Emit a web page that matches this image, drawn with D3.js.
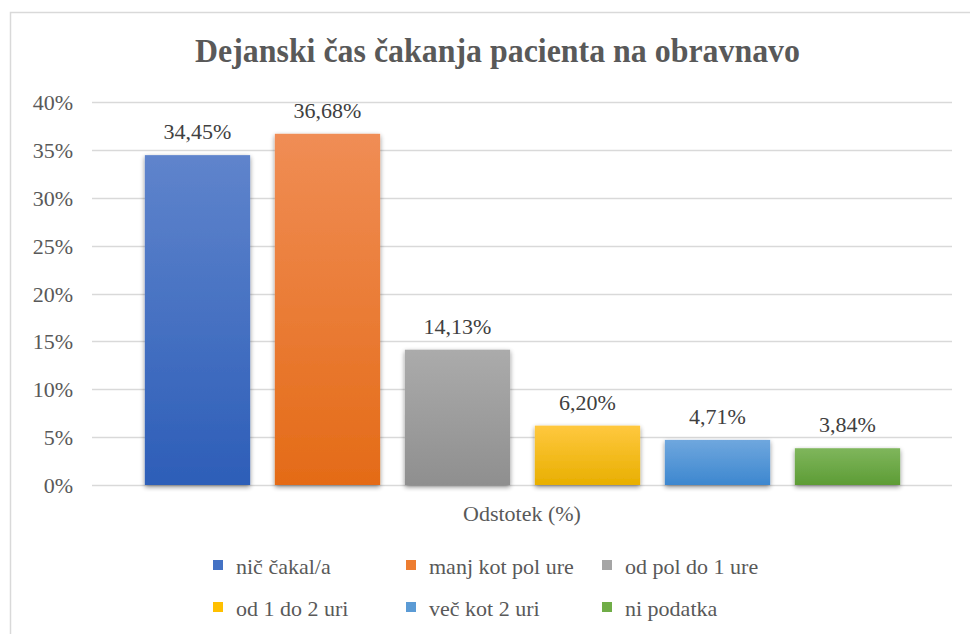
<!DOCTYPE html>
<html>
<head>
<meta charset="utf-8">
<script src="https://cdn.jsdelivr.net/npm/d3@7"></script>
</head>
<body style="margin:0; background:#fff">
<div id="chart"></div>
<script>
const categories = ['nič čakal/a', 'manj kot pol ure', 'od pol do 1 ure', 'od 1 do 2 uri', 'več kot 2 uri', 'ni podatka'];
const values = [34.45, 36.68, 14.13, 6.20, 4.71, 3.84];
const topColors = ['#5f84cc', '#f08d55', '#ababab', '#ffc83f', '#6fa7de', '#7fb65c'];
const bottomColors = ['#2d5eb8', '#e46b17', '#8f8f8f', '#e8af00', '#3d87cf', '#5d9c35'];
const legendColors = ['#4472c4', '#ed7d31', '#a5a5a5', '#ffc000', '#5b9bd5', '#70ad47'];
const yTicks = [0, 5, 10, 15, 20, 25, 30, 35, 40];

const FONT = '"Liberation Serif"';
const width = 970, height = 634;
const svg = d3.select('#chart').append('svg')
    .attr('width', width)
    .attr('height', height)
    .attr('font-family', 'Liberation Serif')
    .style('display', 'block');

const defs = svg.append('defs');

// Sjena ispod stupaca
const shadow = defs.append('filter')
    .attr('id', 'shadow')
    .attr('x', '-20%').attr('y', '-10%')
    .attr('width', '140%').attr('height', '130%');
shadow.append('feGaussianBlur').attr('in', 'SourceAlpha').attr('stdDeviation', 2.5);
shadow.append('feOffset').attr('dx', 0).attr('dy', 2).attr('result', 'blur');
shadow.append('feComponentTransfer').append('feFuncA').attr('type', 'linear').attr('slope', 0.45);
const merge = shadow.append('feMerge');
merge.append('feMergeNode');
merge.append('feMergeNode').attr('in', 'SourceGraphic');

categories.forEach((c, i) => {
    const g = defs.append('linearGradient')
        .attr('id', 'grad' + i)
        .attr('x1', 0).attr('y1', 0).attr('x2', 0).attr('y2', 1);
    g.append('stop').attr('offset', '0%').attr('stop-color', topColors[i]);
    g.append('stop').attr('offset', '100%').attr('stop-color', bottomColors[i]);
});

// Okvir
svg.append('rect')
    .attr('x', 10.5).attr('y', 12.5)
    .attr('width', 1000).attr('height', 700)
    .attr('fill', '#fff')
    .attr('stroke', '#d9d9d9')
    .attr('stroke-width', 1.5);

// Naslov
svg.append('text')
    .attr('x', 497.5)
    .attr('y', 62)
    .attr('text-anchor', 'middle')
    .attr('fill', '#595959')
    .attr('textLength', 605)
    .attr('lengthAdjust', 'spacingAndGlyphs')
    .style('font-family', FONT)
    .style('font-size', '33px')
    .style('font-weight', 'bold')
    .text('Dejanski čas čakanja pacienta na obravnavo');

const y = d3.scaleLinear().domain([0, 40]).range([485, 102]);
const x = d3.scaleBand().domain(categories).range([132.5, 912.5]).paddingInner(0.19).paddingOuter(0.095);

// Mreža
svg.append('g')
    .selectAll('line')
    .data(yTicks)
    .enter()
    .append('line')
    .attr('x1', 92).attr('x2', 952)
    .attr('y1', d => Math.round(y(d)) + 0.5)
    .attr('y2', d => Math.round(y(d)) + 0.5)
    .attr('stroke', '#d9d9d9')
    .attr('stroke-width', 1.5);

// Oznake osi Y
svg.append('g')
    .selectAll('text')
    .data(yTicks)
    .enter()
    .append('text')
    .attr('x', 73)
    .attr('y', d => y(d) + 8)
    .attr('text-anchor', 'end')
    .attr('fill', '#595959')
    .style('font-family', FONT)
    .style('font-size', '22px')
    .text(d => d + '%');

// Stupci
svg.append('g')
    .selectAll('rect')
    .data(values)
    .enter()
    .append('rect')
    .attr('x', (d, i) => x(categories[i]))
    .attr('y', d => y(d))
    .attr('width', x.bandwidth())
    .attr('height', d => y(0) - y(d))
    .attr('fill', (d, i) => `url(#grad${i})`)
    .attr('filter', 'url(#shadow)');

// Vrijednosti
svg.append('g')
    .selectAll('text')
    .data(values)
    .enter()
    .append('text')
    .attr('x', (d, i) => x(categories[i]) + x.bandwidth() / 2)
    .attr('y', d => y(d) - 16)
    .attr('text-anchor', 'middle')
    .attr('fill', '#404040')
    .style('font-family', FONT)
    .style('font-size', '22px')
    .text(d => d.toFixed(2).replace('.', ',') + '%');

// Naslov osi X
svg.append('text')
    .attr('x', 522)
    .attr('y', 521)
    .attr('text-anchor', 'middle')
    .attr('fill', '#595959')
    .style('font-family', FONT)
    .style('font-size', '22px')
    .text('Odstotek (%)');

// Legenda
const legendX = [213, 406, 602];
const legendY = [565, 607];
const legend = svg.append('g')
    .selectAll('g')
    .data(categories)
    .enter()
    .append('g')
    .attr('transform', (d, i) => `translate(${legendX[i % 3]}, ${legendY[Math.floor(i / 3)]})`);

legend.append('rect')
    .attr('x', 0).attr('y', -5)
    .attr('width', 10).attr('height', 10)
    .attr('fill', (d, i) => legendColors[i]);

legend.append('text')
    .attr('x', 23)
    .attr('y', 9)
    .attr('fill', '#595959')
    .style('font-family', FONT)
    .style('font-size', '22px')
    .text(d => d);
</script>
</body>
</html>
